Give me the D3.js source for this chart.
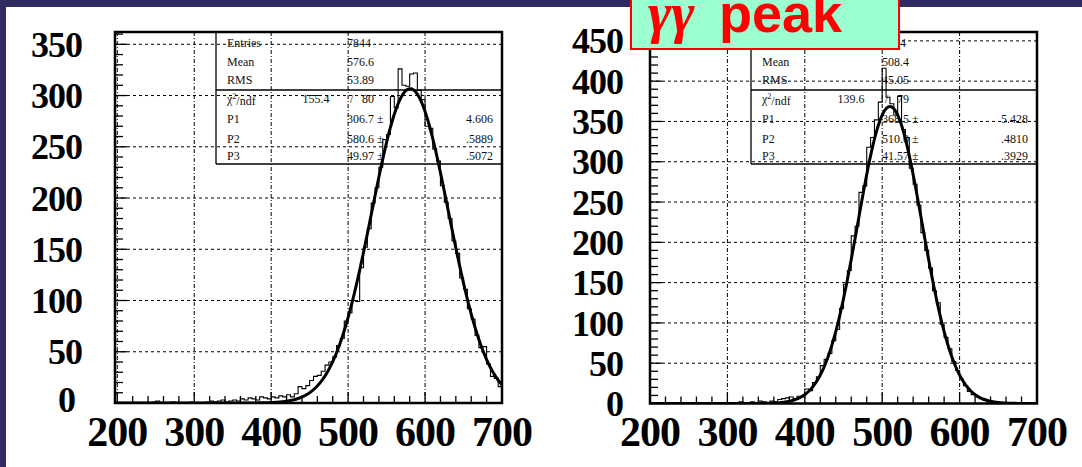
<!DOCTYPE html>
<html><head><meta charset="utf-8">
<script src="https://cdn.jsdelivr.net/npm/d3@7"></script>
<style>body{margin:0;background:#fff;overflow:hidden} svg{display:block}</style>
</head><body>
<svg id="chart" width="1082" height="467"></svg>
<script>
// ---------- data ----------
const binStart = 200;
const binWidth = 5;
const leftCounts = [
  0,0,0,0,0,0,0,0,0,1,
  2,0,0,0,1,0,0,0,0,1,
  0,0,0,1,2,1,2,3,1,2,
  3,2,4,3,5,4,3,6,5,4,
  6,5,7,6,8,6,9,16,14,17,
  22,26,27,31,37,40,45,56,63,80,
  88,100,99,132,152,170,195,210,230,257,
  262,299,288,326,310,309,321,322,305,296,
  270,268,248,236,212,196,180,158,146,122,
  111,92,82,66,54,55,38,26,24,16
];
const rightCounts = [
  0,0,0,0,0,0,0,0,0,0,
  0,0,0,0,0,0,0,0,0,0,
  1,0,1,2,1,0,2,1,3,2,
  1,3,2,5,6,7,8,6,9,8,
  18,16,26,33,47,55,62,78,92,118,
  148,165,208,220,262,270,318,330,352,374,
  416,380,372,358,381,340,330,292,272,246,
  212,190,168,140,125,98,82,68,52,41,
  30,22,15,11,8,6,4,2,2,1,
  1,0,0,0,0,0,0,0,0,0
];
const xTickLabels = [200, 300, 400, 500, 600, 700];
const leftYTicks = [0, 50, 100, 150, 200, 250, 300, 350];
const rightYTicks = [0, 50, 100, 150, 200, 250, 300, 350, 400, 450];

const statNames = ["Entries", "Mean", "RMS"];
const leftStatValues = ["7844", "576.6", "53.89"];
const rightStatValues = ["7814", "508.4", "45.05"];
const leftChi2 = ["155.4", "80"];
const rightChi2 = ["139.6", "79"];
const paramNames = ["P1", "P2", "P3"];
const leftParams = [306.7, 580.6, 49.97];
const leftParamText = ["306.7", "580.6", "49.97"];
const leftParamErrors = ["4.606", ".5889", ".5072"];
const rightParams = [368.5, 510.0, 41.57];
const rightParamText = ["368.5", "510.0", "41.57"];
const rightParamErrors = ["5.428", ".4810", ".3929"];
const titleGreek = "γγ";
const titleText = "peak";

// ---------- drawing ----------
const svg = d3.select("#chart");
svg.append("rect").attr("width",1082).attr("height",467).attr("fill","#fff");
svg.append("rect").attr("x",0).attr("y",0).attr("width",1082).attr("height",7).attr("fill","#302c61");
svg.append("rect").attr("x",0).attr("y",0).attr("width",6).attr("height",467).attr("fill","#302c61");

function drawPanel(cfg, id) {
  const x = d3.scaleLinear().domain(cfg.xDomain).range([cfg.x0, cfg.x1]);
  const y = d3.scaleLinear().domain([0, cfg.yMax]).range([cfg.y1, cfg.y0]);
  const g = svg.append("g");
  const clipId = "clip" + id;
  svg.append("clipPath").attr("id", clipId).append("rect")
    .attr("x", cfg.x0).attr("y", cfg.y0).attr("width", cfg.x1 - cfg.x0).attr("height", cfg.y1 - cfg.y0);

  // grid
  const gridX = xTickLabels.filter(v => v > cfg.xDomain[0] + 1 && v < cfg.xDomain[1] - 1);
  g.selectAll(".gx").data(gridX).join("line")
    .attr("x1", d => x(d)).attr("x2", d => x(d)).attr("y1", cfg.y0).attr("y2", cfg.y1)
    .attr("stroke", "#000").attr("stroke-width", 1).attr("stroke-dasharray", "4,2,1,2");
  const gridY = cfg.yTicks.filter(v => v > 0);
  g.selectAll(".gy").data(gridY).join("line")
    .attr("x1", cfg.x0).attr("x2", cfg.x1).attr("y1", d => y(d)).attr("y2", d => y(d))
    .attr("stroke", "#000").attr("stroke-width", 1).attr("stroke-dasharray", "3,3");

  // stats box
  const bx = cfg.x0 + 101;
  const box = g.append("g").attr("fill", "#111");
  box.append("line").attr("x1", bx).attr("x2", bx).attr("y1", cfg.y0).attr("y2", 164).attr("stroke","#000").attr("stroke-width",1.3);
  box.append("line").attr("x1", bx).attr("x2", cfg.x1).attr("y1", 90).attr("y2", 90).attr("stroke","#000").attr("stroke-width",1.3);
  box.append("line").attr("x1", bx).attr("x2", cfg.x1).attr("y1", 164).attr("y2", 164).attr("stroke","#000").attr("stroke-width",1.3);
  const font = "Liberation Serif";
  const rowsTop = [43, 62, 80];
  statNames.forEach((n, i) => {
    box.append("text").attr("x", bx + 11).attr("y", rowsTop[i]).attr("dy","0.35em").text(n)
      .attr("font-family", font).attr("font-size", 12);
    box.append("text").attr("x", bx + 131).attr("y", rowsTop[i]).attr("dy","0.35em").text(cfg.statValues[i])
      .attr("font-family", font).attr("font-size", 12);
  });
  const chiY = 99;
  const chiT = box.append("text").attr("x", bx + 11).attr("y", chiY).attr("dy","0.35em")
    .attr("font-family", font).attr("font-size", 12);
  chiT.append("tspan").text("χ");
  chiT.append("tspan").text("2").attr("font-size", 8).attr("dy", "-0.5em");
  chiT.append("tspan").text("/ndf").attr("dy", "0.5em");
  box.append("text").attr("x", bx + 100).attr("y", chiY).attr("dy","0.35em").attr("text-anchor","middle")
    .text(cfg.chi2[0]).attr("font-family", font).attr("font-size", 12);
  box.append("text").attr("x", bx + 134).attr("y", chiY).attr("dy","0.35em")
    .text("/").attr("font-family", font).attr("font-size", 12);
  box.append("text").attr("x", bx + 146).attr("y", chiY).attr("dy","0.35em")
    .text(cfg.chi2[1]).attr("font-family", font).attr("font-size", 12);
  const pRows = [119, 139, 156];
  paramNames.forEach((n, i) => {
    box.append("text").attr("x", bx + 11).attr("y", pRows[i]).attr("dy","0.35em").text(n)
      .attr("font-family", font).attr("font-size", 12);
    box.append("text").attr("x", bx + 131).attr("y", pRows[i]).attr("dy","0.35em").text(cfg.paramText[i] + " ±")
      .attr("font-family", font).attr("font-size", 12);
    box.append("text").attr("x", cfg.x1 - 9).attr("y", pRows[i]).attr("dy","0.35em").attr("text-anchor","end")
      .text(cfg.paramErrors[i]).attr("font-family", font).attr("font-size", 12);
  });

  // histogram
  const pts = [[binStart, 0]];
  cfg.counts.forEach((v, i) => {
    const a = binStart + i * binWidth;
    pts.push([a, v]); pts.push([a + binWidth, v]);
  });
  pts.push([binStart + cfg.counts.length * binWidth, 0]);
  const line = d3.line().x(d => x(d[0])).y(d => y(d[1]));
  g.append("path").attr("d", line(pts)).attr("fill","none").attr("stroke","#000")
    .attr("stroke-width",1.1).attr("clip-path", `url(#${clipId})`);

  // fit curve (gaussian with fitted parameters)
  const [A, mu, sig] = cfg.params;
  const xs = d3.range(cfg.xDomain[0], cfg.xDomain[1] + 0.5, 1);
  const fit = xs.map(v => [v, A * Math.exp(-0.5 * ((v - mu) / sig) ** 2)]);
  g.append("path").attr("d", line(fit)).attr("fill","none").attr("stroke","#000")
    .attr("stroke-width",3).attr("stroke-linejoin","round").attr("clip-path", `url(#${clipId})`);

  // ticks
  const yMinor = d3.range(0, cfg.yMax, 10);
  g.selectAll(".ty").data(yMinor).join("line")
    .attr("x1", cfg.x0).attr("x2", d => cfg.x0 + (d % 50 === 0 ? 12 : 8))
    .attr("y1", d => y(d)).attr("y2", d => y(d)).attr("stroke","#000").attr("stroke-width",1.3);
  const xMinor = d3.range(200, 701, 20).filter(v => v > cfg.xDomain[0] && v < cfg.xDomain[1]);
  g.selectAll(".tx").data(xMinor).join("line")
    .attr("x1", d => x(d)).attr("x2", d => x(d))
    .attr("y1", cfg.y1).attr("y2", d => cfg.y1 - (d % 100 === 0 ? 11 : 7))
    .attr("stroke","#000").attr("stroke-width",1.3);

  // frame
  g.append("rect").attr("x", cfg.x0).attr("y", cfg.y0).attr("width", cfg.x1 - cfg.x0).attr("height", cfg.y1 - cfg.y0)
    .attr("fill","none").attr("stroke","#000").attr("stroke-width",2.5);

  // labels
  g.selectAll(".lx").data(xTickLabels).join("text")
    .attr("x", d => x(d)).attr("y", 431).attr("dy","0.35em").attr("text-anchor","middle")
    .attr("font-family", "Liberation Serif").attr("font-weight","bold").attr("font-size", 42)
    .attr("letter-spacing", -1).text(d => d);
  g.selectAll(".ly").data(cfg.yTicks).join("text")
    .attr("x", d => cfg.labelRight + (d === 0 ? cfg.zeroDx : 0))
    .attr("y", d => y(d) + (d === 0 ? cfg.zeroDy : 0)).attr("dy","0.35em").attr("text-anchor","end")
    .attr("font-family", "Liberation Serif").attr("font-weight","bold").attr("font-size", 36)
    .attr("letter-spacing", -1).text(d => d);
}

drawPanel({x0:115, x1:502, y0:32, y1:403, xDomain:[197,700], yMax:362, yTicks:leftYTicks,
  counts:leftCounts, params:leftParams, paramText:leftParamText, paramErrors:leftParamErrors,
  statValues:leftStatValues, chi2:leftChi2, labelRight:82, zeroDx:-7, zeroDy:-4}, "L");
drawPanel({x0:650, x1:1037, y0:32, y1:403.5, xDomain:[200,700], yMax:461, yTicks:rightYTicks,
  counts:rightCounts, params:rightParams, paramText:rightParamText, paramErrors:rightParamErrors,
  statValues:rightStatValues, chi2:rightChi2, labelRight:623, zeroDx:0, zeroDy:0}, "R");

// title label
const tg = svg.append("g");
tg.append("rect").attr("x", 631).attr("y", -4).attr("width", 268).attr("height", 53)
  .attr("fill", "#9bffcf").attr("stroke", "#ff0000").attr("stroke-width", 2);
tg.append("text").attr("x", 648).attr("y", 32).attr("fill", "#ff0000")
  .attr("font-family","Liberation Serif").attr("font-style","italic")
  .attr("font-weight","bold").attr("font-size", 56).text(titleGreek);
tg.append("text").attr("x", 719).attr("y", 32).attr("fill", "#ff0000")
  .attr("font-family","Liberation Sans").attr("font-weight","bold")
  .attr("font-size", 54).text(titleText);
</script>
</body></html>
